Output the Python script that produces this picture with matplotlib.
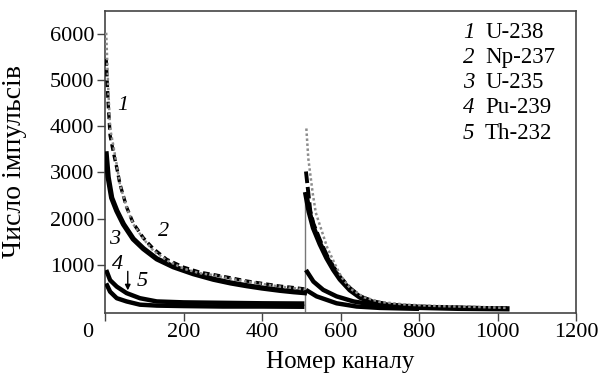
import numpy as np
import matplotlib
matplotlib.use("Agg")
import matplotlib.pyplot as plt
import matplotlib.transforms as mtransforms

plt.rcParams['font.family'] = ['Liberation Serif', 'DejaVu Serif']

# ---- data ----
# segment A: channels 0..511, segment B: channels 512..1023
ch1a = [3, 8, 13, 21, 30, 38, 55, 72, 98, 123, 157, 200, 242, 276, 320, 361, 400, 446, 480, 508]
v1a = [6020, 4870, 3950, 3590, 3160, 2740, 2240, 1880, 1560, 1310, 1100, 920, 820, 780, 700, 640, 590, 530, 500, 470]
ch1b = [513, 518, 529, 537, 552, 566, 584, 602, 626, 660, 700, 769, 850, 950, 1024]
v1b = [3950, 3300, 2560, 2130, 1740, 1380, 1050, 740, 480, 300, 200, 140, 110, 90, 70]

ch2a = [3, 8, 13, 21, 30, 38, 55, 72, 98, 123, 157, 200, 242, 276, 320, 361, 400, 446, 480, 508]
v2a = [5450, 4500, 3800, 3450, 3100, 2750, 2250, 1900, 1580, 1350, 1120, 950, 840, 790, 720, 650, 600, 540, 510, 480]
ch2b = [512, 523, 531, 548, 565, 582, 599, 624, 650, 683, 726, 800, 900, 1024]
v2b = [3020, 2170, 1890, 1530, 1210, 960, 740, 500, 320, 210, 140, 100, 80, 60]

ch3a = [3, 8, 13, 17, 30, 47, 72, 98, 132, 174, 225, 276, 320, 361, 400, 446, 480, 508]
v3a = [3400, 2900, 2650, 2450, 2170, 1880, 1560, 1350, 1130, 960, 810, 690, 610, 550, 500, 450, 420, 400]
ch3b = [512, 520, 531, 548, 565, 582, 599, 624, 650, 683, 726, 800, 900, 1024]
v3b = [2520, 2150, 1800, 1450, 1150, 900, 690, 460, 300, 190, 120, 80, 60, 50]

ch4a = [3, 13, 30, 55, 89, 132, 200, 300, 400, 508]
v4a = [890, 670, 530, 390, 280, 210, 190, 180, 170, 165]
ch4b = [512, 531, 556, 590, 633, 683, 750, 850, 950]
v4b = [890, 640, 460, 320, 210, 140, 100, 80, 60]

ch5a = [3, 13, 30, 55, 89, 132, 200, 300, 400, 508]
v5a = [600, 420, 280, 210, 140, 120, 110, 100, 100, 95]
ch5b = [512, 539, 590, 641, 700, 800]
v5b = [460, 320, 170, 100, 70, 50]

legend_nums = ['1', '2', '3', '4', '5']
legend_names = ['U-238', 'Np-237', 'U-235', 'Pu-239', 'Th-232']

xticks = [0, 200, 400, 600, 800, 1000, 1200]
yticks = [1000, 2000, 3000, 4000, 5000, 6000]

# ---- figure ----
fig = plt.figure(figsize=(5.99, 3.74), dpi=100)
ax = fig.add_axes([105/599, 1-313/374, 471/599, 302/374])

# boundary line between the two halves
ax.plot([ch3b[0]-2, ch3b[0]-2], [0, v3b[0]], color='#777777', lw=1.0, zorder=2)

for cha, va, chb, vb in [(ch5a, v5a, ch5b, v5b), (ch4a, v4a, ch4b, v4b)]:
    ax.plot(cha, va, color='black', lw=3.2, solid_capstyle='butt', zorder=3)
    ax.plot(chb, vb, color='black', lw=3.2, solid_capstyle='butt', zorder=3)

ax.plot(ch3a, v3a, color='black', lw=3.8, zorder=4)
ax.plot(ch3b, v3b, color='black', lw=3.8, zorder=4)

ax.plot(ch2a, v2a, color='black', lw=2.4, ls=(0, (2, 1.2)), zorder=5)
ax.plot(ch2b, v2b, color='black', lw=2.8, ls=(0, (3, 1)), zorder=5)

ax.plot(ch1a, v1a, color='#8c8c8c', lw=1.8, ls=(0, (1, 1)), zorder=6)
ax.plot(ch1b, v1b, color='#8c8c8c', lw=1.8, ls=(0, (1, 1)), zorder=6)

# curve labels
lab_kw = dict(fontsize=16, style='italic', zorder=7)
ax.text(46, 4440, '1', ha='center', va='center', **lab_kw)
ax.text(150, 1730, '2', ha='center', va='center', **lab_kw)
ax.text(25, 1540, '3', ha='center', va='center', **lab_kw)
ax.text(32, 1000, '4', ha='center', va='center', **lab_kw)
ax.text(96, 640, '5', ha='center', va='center', **lab_kw)
ax.annotate('', xy=(58, 450), xytext=(58, 860),
            arrowprops=dict(arrowstyle='-|>', color='black', lw=1.0,
                            mutation_scale=8, shrinkA=0, shrinkB=0))

# legend as text
ys = [0.9106, 0.8278, 0.745, 0.662, 0.576]
for n, name, y in zip(legend_nums, legend_names, ys):
    ax.text(0.760, y, n, transform=ax.transAxes, fontsize=16.5, style='italic',
            ha='left', va='baseline')
    ax.text(0.807, y, name, transform=ax.transAxes, fontsize=16.5,
            ha='left', va='baseline')

ax.set_xlim(0, 1200)
ax.set_ylim(-40, 6490)
ax.set_xticks(xticks)
ax.set_yticks(yticks)
ax.tick_params(direction='out', length=5.5, width=1.0, labelsize=16, pad=2,
               color='#444444')
for s in ax.spines.values():
    s.set_linewidth(1.2)
    s.set_color('#444444')

# shift the corner "0" label to the left
lbl0 = ax.get_xticklabels()[0]
lbl0.set_transform(lbl0.get_transform() +
                   mtransforms.ScaledTranslation(-17/100, 0, fig.dpi_scale_trans))

ax.set_xlabel('Номер каналу', fontsize=18)
ax.set_ylabel('Число імпульсів', fontsize=20)
ax.xaxis.set_label_coords(0.5, -0.125)
ax.yaxis.set_label_coords(-0.165, 0.5)

fig.savefig('out.png', dpi=100)
